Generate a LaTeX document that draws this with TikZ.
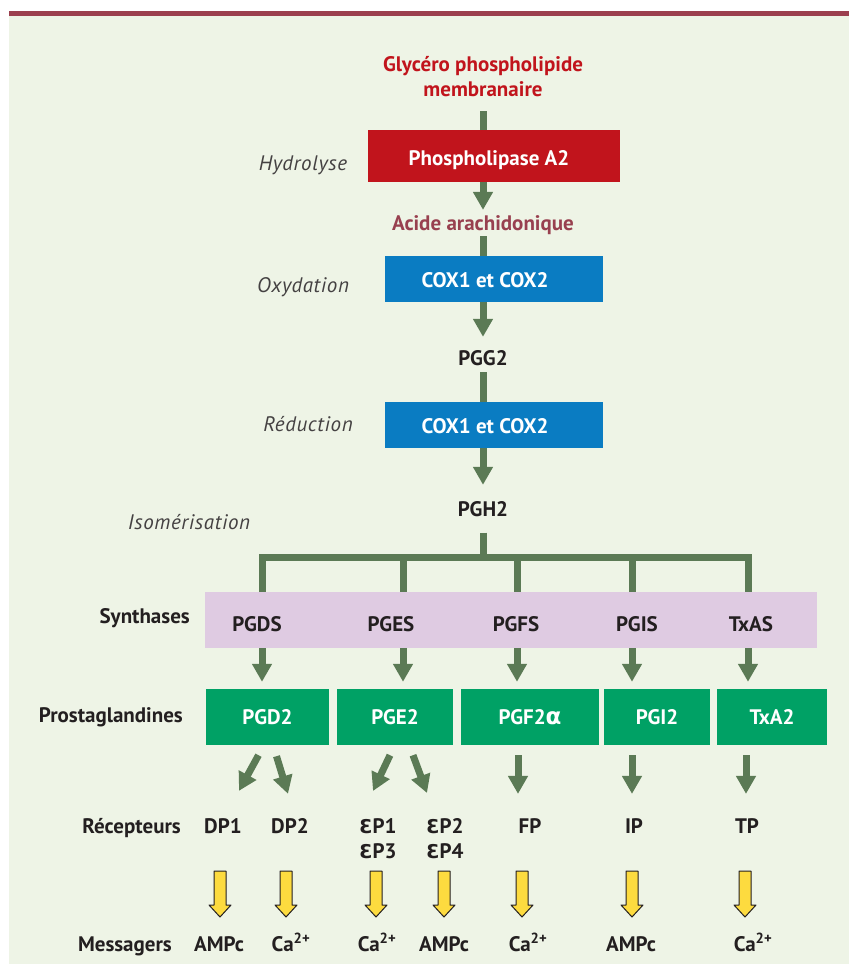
\documentclass[tikz,border=0pt]{standalone}
\usepackage{fontspec}
\setmainfont{PT Sans}
\newfontfamily\greekfont{DejaVu Sans}
\usetikzlibrary{arrows.meta,calc}

\definecolor{bgcol}{HTML}{EEF4E6}
\definecolor{barcol}{HTML}{9B3F4E}
\definecolor{flowgreen}{HTML}{5B7A55}
\definecolor{plared}{HTML}{C1141C}
\definecolor{acidcol}{HTML}{98404F}
\definecolor{coxblue}{HTML}{0A7CC2}
\definecolor{synthcol}{HTML}{DFCBE2}
\definecolor{pggreen}{HTML}{00A165}
\definecolor{msgyellow}{HTML}{FDDB3F}
\definecolor{ink}{HTML}{231F20}

\newcommand{\openE}{{\greekfont\fontsize{19}{19}\selectfont Ɛ}}
\newcommand{\alphaglyph}{{\greekfont\fontsize{23}{23}\selectfont α}}

\begin{document}
\begin{tikzpicture}[
    x=1pt,
    y=-1pt,
    every node/.style={font=\fontsize{21}{25}\selectfont\bfseries, text=ink, inner sep=0pt},
    redbox/.style={fill=plared, minimum width=252pt, minimum height=52pt},
    bluebox/.style={fill=coxblue, minimum width=218pt, minimum height=46pt},
    pgbox/.style={fill=pggreen, minimum height=56pt, text=white},
    boxtext/.style={text=white, anchor=base},
    txt/.style={anchor=base},
    rowname/.style={anchor=base east},
    stepnote/.style={anchor=base, font=\fontsize{21}{25}\selectfont\itshape\addfontfeature{LetterSpace=3}, text=ink!85},
    stem/.style={draw=flowgreen, line width=7pt},
    flow/.style={stem, -{Triangle[length=18pt, width=19pt]}},
    msgarrow/.pic={
      \filldraw[fill=msgyellow, draw=ink, line width=1pt, line join=round]
        (-6,0) -- (6,0) -- (6,34) -- (11,34) -- (0,46) -- (-11,34) -- (-6,34) -- cycle;
    }
  ]
    \useasboundingbox (0,0) rectangle (849,964);
    \fill[bgcol] (9,16) rectangle (849,964);
    \fill[barcol] (9,11) rectangle (849,16);

    % main pathway
    \node[text=plared, align=center, font=\fontsize{21}{25}\selectfont\bfseries] (glycero) at (483,77) {Glycéro phospholipide\\membranaire};
    \node[redbox] (pla2) at (494,156) {};
    \node[boxtext] at (489,165) {Phospholipase A2};
    \node[txt, text=acidcol] (acide) at (483,230) {Acide arachidonique};
    \node[bluebox] (cox1) at (494,279) {};
    \node[boxtext] at (485,287) {COX1 et COX2};
    \node[txt] (pgg2) at (483,365) {PGG2};
    \node[bluebox] (cox2) at (494,425) {};
    \node[boxtext] at (485,433) {COX1 et COX2};
    \node[txt] (pgh2) at (483,516) {PGH2};

    \node[stepnote] at (303,170) {Hydrolyse};
    \node[stepnote] at (303,292) {Oxydation};
    \node[stepnote] at (308,431) {Réduction};
    \node[stepnote] at (189,529) {Isomérisation};

    \draw[stem, shorten <=14pt] (glycero.south) -- (glycero.south |- pla2.north);
    \draw[flow, shorten >=5pt] (acide |- pla2.south) -- (acide.north);
    \draw[stem, shorten <=2pt] (acide.south) -- (acide.south |- cox1.north);
    \draw[flow, shorten >=13pt] (pgg2 |- cox1.south) -- (pgg2.north);
    \draw[stem, shorten <=7pt] (pgg2.south) -- (pgg2.south |- cox2.north);
    \draw[flow, shorten >=16pt] (pgh2 |- cox2.south) -- (pgh2.north);

    % synthases
    \node[fill=synthcol, minimum width=612pt, minimum height=56pt] (synth) at (511,620) {};
    \node[txt] (pgds) at (257,631) {PGDS};
    \node[txt] (pges) at (391,631) {PGES};
    \node[txt] (pgfs) at (516,631) {PGFS};
    \node[txt] (pgis) at (637,631) {PGIS};
    \node[txt] (txas) at (751,631) {TxAS};

    \coordinate (fork) at (483,557);
    \foreach \x [count=\i] in {262,403,517,632,748}
      \coordinate (col\i) at (\x,557);
    \draw[stem, shorten <=16pt] (pgh2.south) -- (fork);
    \draw[stem] (col1 |- synth.north) -- (col1) -- (col5) -- (col5 |- synth.north);
    \foreach \i in {2,3,4}
      \draw[stem] (col\i) -- (col\i |- synth.north);

    % prostaglandines
    \node[pgbox, minimum width=123pt] (pgd2) at (267.5,717) {PGD2};
    \node[pgbox, minimum width=116pt] (pge2) at (395,717) {PGE2};
    \node[pgbox, minimum width=138pt] (pgf2) at (530,717) {PGF2\alphaglyph};
    \node[pgbox, minimum width=106pt] (pgi2) at (657,717) {PGI2};
    \node[pgbox, minimum width=110pt] (txa2) at (772,717) {TxA2};

    \foreach \i in {1,...,5}
      \draw[flow, shorten >=7pt] (col\i |- synth.south) -- (col\i |- pgd2.north);

    % recepteurs
    \node[txt] (dp1) at (223,833) {DP1};
    \node[txt] (dp2) at (290,833) {DP2};
    \node[align=center, anchor=north] (ep13) at (378,818) {\openE P1\\\openE P3};
    \node[align=center, anchor=north] (ep24) at (445,818) {\openE P2\\\openE P4};
    \node[txt] (fp) at (530,833) {FP};
    \node[txt] (ip) at (634,833) {IP};
    \node[txt] (tp) at (747,833) {TP};

    \draw[flow] ($(pgd2.south)+(-9,10)$) -- ($(dp1.north)+(16,-27)$);
    \draw[flow] ($(pgd2.south)+(9,11)$) -- ($(dp2.north)+(-2,-24)$);
    \draw[flow] ($(pge2.south)+(-5,10)$) -- ($(ep13.north)+(-5,-27)$);
    \draw[flow] ($(pge2.south)+(18,10)$) -- ($(ep24.north)+(-18,-25)$);
    \draw[flow] ($(pgf2.south)+(-12,10)$) -- ($(fp.north)+(-12,-24)$);
    \draw[flow] ($(pgi2.south)+(-25,10)$) -- ($(ip.north)+(-2,-24)$);
    \draw[flow] ($(txa2.south)+(-26,10)$) -- ($(tp.north)+(-1,-24)$);

    % messagers
    \foreach \x in {220,286,376,444,522,632,745}
      \pic at (\x,871) {msgarrow};
    \node[txt] (m1) at (219,951) {AMPc};
    \node[txt] (m2) at (291,951) {Ca\textsuperscript{2+}};
    \node[txt] (m3) at (377,951) {Ca\textsuperscript{2+}};
    \node[txt] (m4) at (444,951) {AMPc};
    \node[txt] (m5) at (528,951) {Ca\textsuperscript{2+}};
    \node[txt] (m6) at (631,951) {AMPc};
    \node[txt] (m7) at (753,951) {Ca\textsuperscript{2+}};

    % row names
    \node[rowname] at (190,623) {Synthases};
    \node[rowname] at (183,722) {Prostaglandines};
    \node[rowname] at (181,833) {Récepteurs};
    \node[rowname] at (172,951) {Messagers};
  \end{tikzpicture}
\end{document}
